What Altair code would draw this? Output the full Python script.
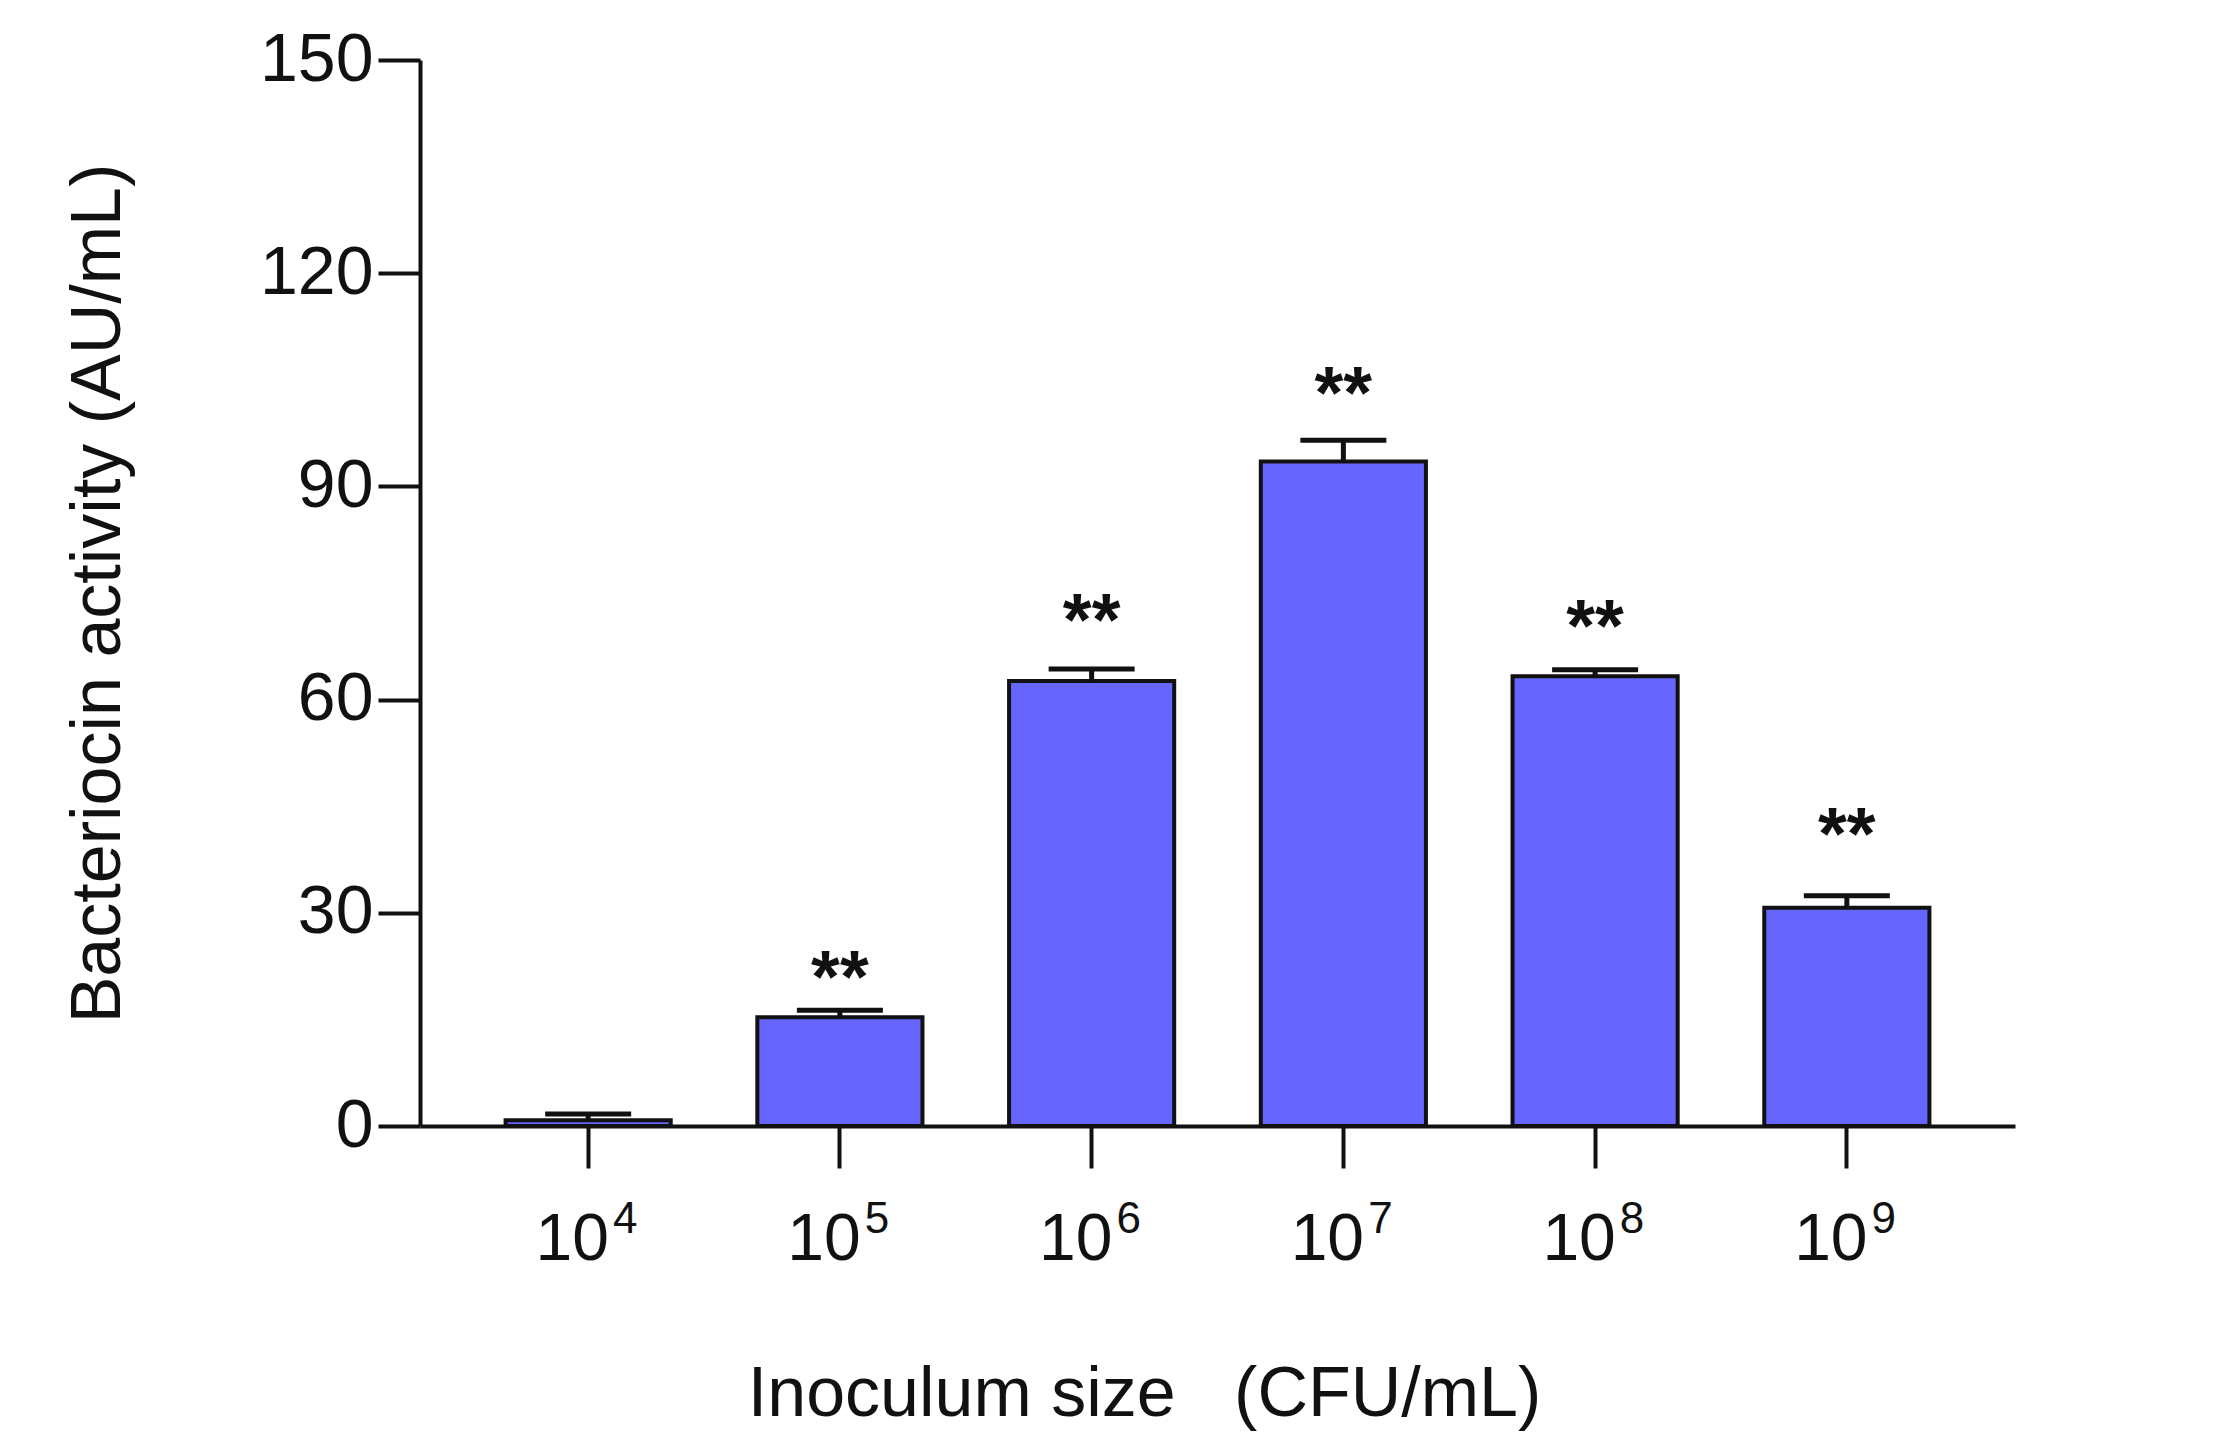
import altair as alt
import pandas as pd

# ---- data ----
exponents = ["4", "5", "6", "7", "8", "9"]          # inoculum size 10^x CFU/mL
activity = [0.8, 15.3, 62.6, 93.5, 63.3, 30.7]      # bacteriocin activity (AU/mL)
error = [0.9, 1.0, 1.7, 3.0, 0.9, 1.7]              # upper error
stars = ["", "**", "**", "**", "**", "**"]
star_pos = [0.0, 23.2, 73.4, 105.4, 72.6, 43.3]     # value level of the significance marks
y_ticks = [0, 30, 60, 90, 120, 150]

df = pd.DataFrame({
    "exp": exponents,
    "activity": activity,
    "upper": [a + e for a, e in zip(activity, error)],
    "star": stars,
    "star_y": star_pos,
})

FONT = "Liberation Sans"
BLACK = "#111111"
NB = "\u00a0"

xscale = alt.Scale(paddingInner=0.344, paddingOuter=0.34)
yscale = alt.Scale(domain=[0, 150], nice=False, zero=True)

y_axis = alt.Axis(
    values=y_ticks, grid=False,
    title="Bacteriocin activity (AU/mL)",
    labelFontSize=68, labelPadding=5, labelColor=BLACK,
    tickSize=42, tickWidth=4, tickColor=BLACK,
    domainWidth=4, domainColor=BLACK,
    titleFontSize=70, titleFontWeight="normal", titleColor=BLACK,
    titleAngle=-90, titleX=-301, titleY=533,
    titleAlign="center", titleBaseline="alphabetic",
)

x_main_axis = alt.Axis(
    orient="bottom", labelExpr="'10'", labelAngle=0,
    labelFontSize=66, labelOffset=-16, labelBaseline="alphabetic", labelPadding=91,
    labelColor=BLACK,
    tickSize=42, tickWidth=4, tickColor=BLACK,
    domainWidth=4, domainColor=BLACK, grid=False,
    title="Inoculum size" + NB * 3 + "(CFU/mL)",
    titleFontSize=70, titleFontWeight="normal", titleColor=BLACK,
    titleX=724, titleY=289, titleAlign="center", titleBaseline="alphabetic",
)

x_exp_axis = alt.Axis(
    orient="bottom", domain=False, ticks=False, grid=False, labelAngle=0,
    labelFontSize=44, labelOffset=37, labelBaseline="alphabetic", labelPadding=106,
    labelColor=BLACK, title=None,
)

base = alt.Chart(df)

bars = base.mark_bar(color="#6666FF", stroke=BLACK, strokeWidth=4).encode(
    x=alt.X("exp:N", sort=exponents, scale=xscale, axis=x_main_axis),
    y=alt.Y("activity:Q", scale=yscale, axis=y_axis),
)

err = base.mark_rule(color=BLACK, strokeWidth=5).encode(
    x=alt.X("exp:N", sort=exponents, scale=xscale, axis=None),
    y=alt.Y("activity:Q", scale=yscale, axis=y_axis),
    y2="upper:Q",
)

caps = base.mark_tick(color=BLACK, size=86, thickness=5, opacity=1, orient="horizontal").encode(
    x=alt.X("exp:N", sort=exponents, scale=xscale, axis=x_exp_axis),
    y=alt.Y("upper:Q", scale=yscale, axis=y_axis),
)

sig = base.transform_filter("datum.star != ''").mark_text(
    fontSize=74, fontWeight="bold", baseline="alphabetic", dy=41, color=BLACK, font=FONT,
).encode(
    x=alt.X("exp:N", sort=exponents, scale=xscale, axis=None),
    y=alt.Y("star_y:Q", scale=yscale, axis=y_axis),
    text="star:N",
)

chart = alt.layer(bars, err, caps, sig).resolve_axis(x="independent").properties(
    width=1595, height=1066,
    autosize=alt.AutoSizeParams(type="none"),
    padding={"left": 412, "top": 52, "right": 190, "bottom": 310},
    background="white",
).configure(font=FONT).configure_view(stroke=None)

chart.save("out.html", embed_options={"renderer": "svg", "actions": False})
